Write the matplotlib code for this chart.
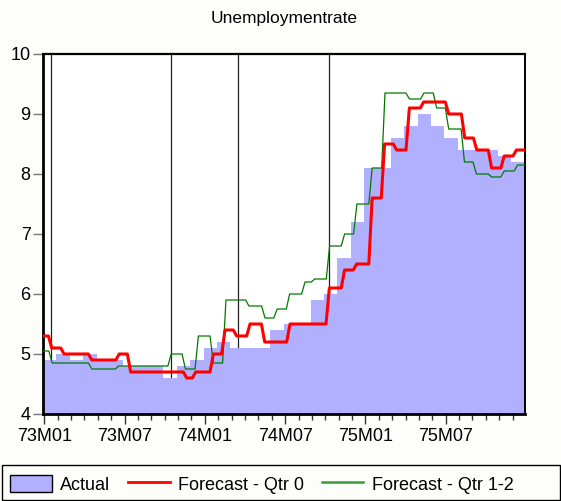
import numpy as np
import matplotlib
matplotlib.use("Agg")
import matplotlib.pyplot as plt
from matplotlib.patches import Patch, Rectangle
from matplotlib.lines import Line2D

plt.rcParams["font.family"] = ["Liberation Sans", "DejaVu Sans"]

# monthly actual unemployment rate, 73M01 .. 75M12
actual = [4.9, 5.0, 4.9, 5.0, 4.9, 4.9, 4.8, 4.8, 4.8, 4.6, 4.8, 4.9,
          5.1, 5.2, 5.1, 5.1, 5.1, 5.4, 5.5, 5.5, 5.9, 6.0, 6.6, 7.2,
          8.1, 8.1, 8.6, 8.8, 9.0, 8.8, 8.6, 8.4, 8.4, 8.4, 8.3, 8.2]

# forecasts change within months -> change points in months since 73M01
qtr0_breaks = [0.43, 1.35, 3.42, 5.47, 6.33, 10.52, 11.19, 12.51, 13.38, 14.25,
               15.25, 16.35, 18.24, 21.18, 22.32, 23.22, 24.38, 25.31, 26.21,
               27.16, 28.23, 30.10, 31.30, 32.20, 33.31, 34.25, 35.16]
qtr0_levels = [5.3, 5.1, 5.0, 4.9, 5.0, 4.7, 4.6, 4.7, 5.0, 5.4, 5.3, 5.5, 5.2,
               5.5, 6.1, 6.4, 6.5, 7.6, 8.5, 8.4, 9.1, 9.2, 9.0, 8.6, 8.4, 8.1,
               8.3, 8.4]

qtr12_breaks = [0.46, 3.42, 5.43, 9.36, 10.42, 11.39, 12.51, 13.45, 15.17, 16.37,
                17.28, 18.21, 19.36, 20.08, 21.20, 22.32, 23.24, 24.38, 25.34,
                27.16, 28.25, 29.20, 30.10, 31.28, 32.17, 33.31, 34.25, 35.25]
qtr12_levels = [5.05, 4.85, 4.75, 4.8, 5.0, 4.75, 5.3, 4.85, 5.9, 5.8, 5.6, 5.75,
                6.0, 6.2, 6.25, 6.8, 7.0, 7.5, 8.1, 9.35, 9.25, 9.35, 9.1, 8.75,
                8.2, 8.0, 7.95, 8.05, 8.15]

vline_dates = [0.5, 9.45, 14.44, 21.3]

tick_pos = [0, 6, 12, 18, 24, 30]
tick_labels = ["73M01", "73M07", "74M01", "74M07", "75M01", "75M07"]


def slanted_steps(breaks, levels, x0, x1, d=0.25):
    xs, ys = [x0], [levels[0]]
    for b, v0, v1 in zip(breaks, levels[:-1], levels[1:]):
        xs += [b - d / 2, b + d / 2]
        ys += [v0, v1]
    xs.append(x1)
    ys.append(levels[-1])
    return xs, ys


x_left, x_right = -0.1, 35.93

fig = plt.figure(figsize=(5.61, 5.01), dpi=100, facecolor="#fdfdf9")
ax = fig.add_axes([43 / 561, 1 - 414 / 501, (525 - 43) / 561, (414 - 54) / 501])
ax.set_facecolor("white")

for t in vline_dates:
    ax.axvline(t, color="#222222", lw=0.9, zorder=1)

edges = np.arange(len(actual) + 1) - 0.1
ax.fill_between(edges, np.append(actual, actual[-1]), 0, step="post",
                color="#b0b0ff", lw=0, zorder=2)

gx, gy = slanted_steps(qtr12_breaks, qtr12_levels, x_left, x_right)
ax.plot(gx, gy, color="#007a00", lw=0.9, zorder=3)
rx, ry = slanted_steps(qtr0_breaks, qtr0_levels, x_left, x_right)
ax.plot(rx, ry, color="#ff0000", lw=2.2, zorder=4)

ax.set_xlim(x_left, x_right)
ax.set_ylim(4, 10)
ax.set_yticks(range(4, 11))
ax.set_xticks(tick_pos)
ax.set_xticklabels(tick_labels)
ax.set_xticks(range(36), minor=True)
ax.tick_params(axis="y", direction="out", length=7, width=1, color="#777777",
               labelsize=13, pad=2)
ax.tick_params(axis="x", which="major", direction="out", length=7, width=1,
               color="#333333", labelsize=13, pad=3)
ax.tick_params(axis="x", which="minor", direction="out", length=4, width=1,
               color="#333333")
for side, w in [("left", 2.0), ("bottom", 2.0), ("top", 1.6), ("right", 1.4)]:
    ax.spines[side].set_linewidth(w)
    ax.spines[side].set_color("black")

fig.text(284 / 561, 1 - 18 / 501, "Unemploymentrate", ha="center", va="center",
         fontsize=12.5)

# legend box spans the whole width
fig.patches.append(Rectangle((2 / 561, 1 / 501), 557.5 / 561, 35 / 501,
                             transform=fig.transFigure, fill=False,
                             edgecolor="black", lw=1))
handles = [Patch(facecolor="#b0b0ff", edgecolor="black", lw=1),
           Line2D([], [], color="#ff0000", lw=2),
           Line2D([], [], color="#3a9a3a", lw=1.8)]
labels = ["Actual", "Forecast - Qtr 0", "Forecast - Qtr 1-2"]
fig.legend(handles, labels, loc="lower left",
           bbox_to_anchor=(4 / 561, 1 / 501), ncol=3, fontsize=13,
           frameon=False, handlelength=2.3, handleheight=1.1,
           handletextpad=0.45, columnspacing=1.0, borderpad=0.35,
           borderaxespad=0)

fig.savefig("out.png", dpi=100, facecolor=fig.get_facecolor())
